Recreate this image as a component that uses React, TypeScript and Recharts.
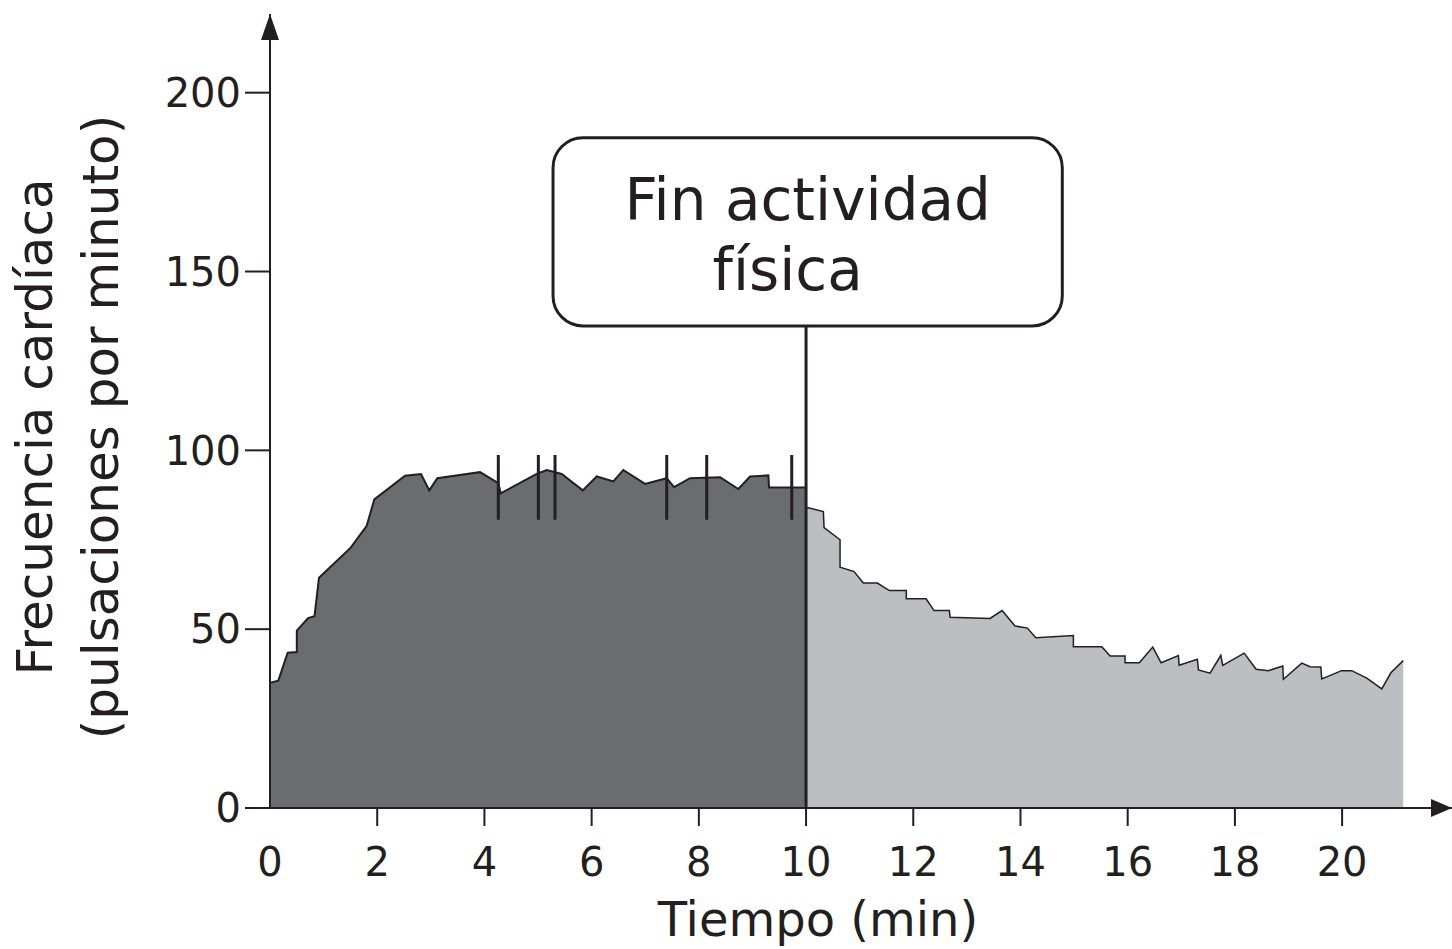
import React from 'react';
import {
  AreaChart,
  Area,
  XAxis,
  YAxis,
  ReferenceLine,
  ReferenceArea,
  ReferenceDot,
  Label,
} from 'recharts';

// Exercise phase (minutes, beats per minute)
const activeTime = [0, 0.155, 0.33, 0.5, 0.5, 0.71, 0.83, 0.914, 1.506, 1.804, 1.946, 2.519, 2.817, 2.972, 3.121, 3.918, 4.259, 4.304, 4.976, 5.162, 5.442, 5.834, 6.095, 6.405, 6.591, 6.996, 7.401, 7.537, 7.836, 8.396, 8.737, 8.955, 9.297, 9.31, 10];
const activeRate = [35.0, 35.6, 43.4, 43.6, 49.6, 53.1, 53.6, 64.4, 72.8, 78.9, 86.3, 92.9, 93.4, 88.8, 92.2, 93.9, 90.8, 88.0, 93.4, 94.5, 93.4, 88.8, 92.7, 91.3, 94.5, 90.6, 92.2, 89.7, 92.2, 92.5, 89.2, 92.7, 93.0, 89.6, 89.6];

// Recovery phase
const restTime = [10, 10.323, 10.336, 10.634, 10.634, 10.896, 11.069, 11.33, 11.554, 11.87, 11.87, 12.239, 12.388, 12.674, 12.687, 13.433, 13.657, 13.899, 14.129, 14.286, 14.987, 14.987, 15.517, 15.672, 15.951, 15.951, 16.218, 16.468, 16.623, 16.946, 16.96, 17.3, 17.32, 17.537, 17.737, 17.774, 18.172, 18.396, 18.625, 18.894, 18.905, 19.248, 19.403, 19.603, 19.62, 19.99, 20.18, 20.46, 20.74, 20.91, 21.14];
const restRate = [84.1, 82.9, 78.4, 75.0, 67.3, 66.1, 62.9, 62.9, 60.8, 60.8, 58.5, 58.5, 55.2, 55.2, 53.3, 53.0, 55.2, 50.9, 50.3, 47.6, 48.2, 45.1, 45.1, 42.5, 42.5, 40.6, 40.6, 45.0, 40.6, 42.6, 39.9, 41.6, 38.6, 37.7, 42.7, 39.9, 43.3, 38.8, 38.4, 39.7, 36.0, 40.5, 39.5, 39.4, 36.1, 38.4, 38.4, 36.3, 33.3, 37.8, 41.2];

// Short vertical marks on the exercise plateau
const markTimes = [4.259, 5.006, 5.317, 7.401, 8.147, 9.733];
const markRange = [80.6, 98.7];

const xTicks = [0, 2, 4, 6, 8, 10, 12, 14, 16, 18, 20];
const yTicks = [0, 50, 100, 150, 200];
const xDomain = [0, 22.05];
const yDomain = [0, 222];

const endTime = 10;
const boxX = [5.28, 14.78];
const boxY = [134.8, 187.4];
const boxLines = ['Fin actividad', 'física'];

const xTitle = 'Tiempo (min)';
const yTitle = ['Frecuencia cardíaca', '(pulsaciones por minuto)'];

const data = [
  ...activeTime.map((t, i) => ({ t, active: activeRate[i], rest: null as number | null })),
  ...restTime.map((t, i) => ({ t, active: null as number | null, rest: restRate[i] })),
];

const FONT = '"DejaVu Sans", Verdana, sans-serif';
const INK = '#231f20';

const XTick = (props: any) => {
  const { x, y, payload } = props;
  return (
    <g>
      {payload.value !== 0 && (
        <line x1={x} x2={x} y1={y - 18} y2={y} stroke={INK} strokeWidth={2} />
      )}
      <text x={x} y={y + 50} textAnchor="middle" fontSize={40} fill={INK} fontFamily={FONT}>
        {payload.value}
      </text>
    </g>
  );
};

const YTitle = (props: any) => {
  const vb = props.viewBox || { x: 150, y: 14, width: 120, height: 794 };
  const right = vb.x + vb.width;
  const cy = vb.y + vb.height / 2 + 16;
  const x1 = right - 218;
  const x2 = right - 152;
  return (
    <g>
      <text transform={`translate(${x1},${cy}) rotate(-90)`} textAnchor="middle" fontSize={50} fill={INK} fontFamily={FONT}>
        {yTitle[0]}
      </text>
      <text transform={`translate(${x2},${cy}) rotate(-90)`} textAnchor="middle" fontSize={50} fill={INK} fontFamily={FONT}>
        {yTitle[1]}
      </text>
    </g>
  );
};

const XTitle = (props: any) => {
  const vb = props.viewBox || { x: 270, y: 808, width: 1182, height: 141 };
  return (
    <text x={vb.x + 548} y={vb.y + 128} textAnchor="middle" fontSize={48} fill={INK} fontFamily={FONT}>
      {xTitle}
    </text>
  );
};

const BoxShape = (props: any) => {
  const { x, y, width, height } = props;
  return (
    <g>
      <rect x={x} y={y} width={width} height={height} rx={30} ry={30} fill="#ffffff" stroke={INK} strokeWidth={3} />
      <text x={x + width / 2} y={y + 82} textAnchor="middle" fontSize={58} fill={INK} fontFamily={FONT}>
        {boxLines[0]}
      </text>
      <text x={x + width / 2 - 20} y={y + 152} textAnchor="middle" fontSize={58} fill={INK} fontFamily={FONT}>
        {boxLines[1]}
      </text>
    </g>
  );
};

const UpArrow = (props: any) => {
  const { cx, cy } = props;
  return <polygon points={`${cx},${cy} ${cx - 9},${cy + 26} ${cx + 9},${cy + 26}`} fill={INK} />;
};

const RightArrow = (props: any) => {
  const { cx, cy } = props;
  return <polygon points={`${cx},${cy} ${cx - 21},${cy - 9} ${cx - 21},${cy + 9}`} fill={INK} />;
};

export default function App() {
  return (
    <div style={{ position: 'absolute', left: 0, top: 0, width: 1452, height: 949, background: '#fff' }}>
      <AreaChart
        width={1452}
        height={949}
        data={data}
        margin={{ top: 14, right: 0, left: 150, bottom: 0 }}
      >
        <XAxis
          dataKey="t"
          type="number"
          domain={xDomain}
          ticks={xTicks}
          allowDataOverflow
          height={141}
          tickSize={18}
          tickMargin={0}
          tickLine={false}
          tick={<XTick />}
          axisLine={{ stroke: INK, strokeWidth: 2 }}
          interval={0}
        >
          <Label content={<XTitle />} />
        </XAxis>
        <YAxis
          type="number"
          domain={yDomain}
          ticks={yTicks}
          allowDataOverflow
          width={120}
          tickSize={25}
          tickMargin={4}
          tickLine={{ stroke: INK, strokeWidth: 2 }}
          axisLine={{ stroke: INK, strokeWidth: 2 }}
          tick={{ fontSize: 40, fill: INK, fontFamily: FONT }}
          interval={0}
        >
          <Label content={<YTitle />} />
        </YAxis>
        <Area
          type="linear"
          dataKey="active"
          stroke={INK}
          strokeWidth={2}
          fill="#6b6c70"
          fillOpacity={1}
          dot={false}
          activeDot={false}
          isAnimationActive={false}
        />
        <Area
          type="linear"
          dataKey="rest"
          stroke={INK}
          strokeWidth={1.5}
          fill="#bdbec2"
          fillOpacity={1}
          dot={false}
          activeDot={false}
          isAnimationActive={false}
        />
        {markTimes.map((m) => (
          <ReferenceLine
            key={m}
            segment={[{ x: m, y: markRange[0] }, { x: m, y: markRange[1] }]}
            stroke={INK}
            strokeWidth={3}
          />
        ))}
        <ReferenceLine
          segment={[{ x: endTime, y: 0 }, { x: endTime, y: boxY[0] }]}
          stroke={INK}
          strokeWidth={3}
        />
        <ReferenceArea
          x1={boxX[0]}
          x2={boxX[1]}
          y1={boxY[0]}
          y2={boxY[1]}
          ifOverflow="visible"
          shape={<BoxShape />}
        />
        <ReferenceDot x={xDomain[0]} y={yDomain[1]} r={1} ifOverflow="visible" shape={<UpArrow />} />
        <ReferenceDot x={xDomain[1]} y={yDomain[0]} r={1} ifOverflow="visible" shape={<RightArrow />} />
      </AreaChart>
    </div>
  );
}
